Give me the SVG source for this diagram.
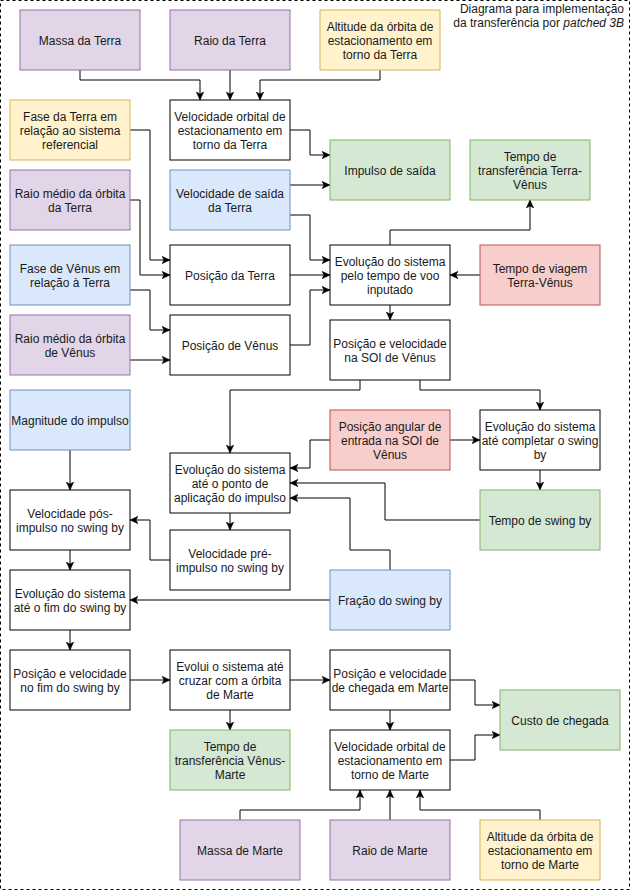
<svg xmlns="http://www.w3.org/2000/svg" width="631" height="891" viewBox="0 0 631 891">
<style>
  .n rect{stroke-width:1}
  .w rect{fill:#ffffff;stroke:#000000}
  .p rect{fill:#e1d5e7;stroke:#9673a6}
  .y rect{fill:#fff2cc;stroke:#d6b656}
  .g rect{fill:#d5e8d4;stroke:#82b366}
  .b rect{fill:#dae8fc;stroke:#6c8ebf}
  .r rect{fill:#f8cecc;stroke:#b85450}
  text{font-family:"Liberation Sans",Arial,sans-serif;font-size:12px;fill:#1a1a1a;text-anchor:middle}
  .e path{fill:none;stroke:#000000;stroke-width:1;marker-end:url(#ah)}
</style>
<defs>
  <marker id="ah" markerUnits="userSpaceOnUse" markerWidth="10" markerHeight="10" refX="8" refY="4" orient="auto" viewBox="0 0 10 10">
    <path d="M0,0.3 L8,4 L0,7.7 L2,4 Z" fill="#000000" stroke="#000000" stroke-width="0.5"/>
  </marker>
</defs>
<rect x="0" y="0" width="631" height="891" fill="#ffffff"/>
<rect x="0.5" y="0.5" width="629" height="889" fill="none" stroke="#000000" stroke-dasharray="3 3"/>
<g id="title">
  <text x="624" y="13" style="text-anchor:end">Diagrama para implementação</text>
  <text x="624" y="27" style="text-anchor:end">da transferência por <tspan font-style="italic">patched 3B</tspan></text>
</g>

<g id="connectors" class="e">
  <path d="M80,70 V80 H200 V100"/>
  <path d="M230,70 V100"/>
  <path d="M380,70 V80 H260 V100"/>
  <path d="M290,130 H310 V155 H330"/>
  <path d="M290,185 H330"/>
  <path d="M290,215 H310 V260 H330"/>
  <path d="M130,130 H150 V260 H170"/>
  <path d="M130,200 H140 V275 H170"/>
  <path d="M290,275 H330"/>
  <path d="M290,345 H310 V290 H330"/>
  <path d="M130,290 H150 V330 H170"/>
  <path d="M130,360 H170"/>
  <path d="M480,275 H450"/>
  <path d="M390,245 V230 H530 V200"/>
  <path d="M390,305 V320"/>
  <path d="M360,380 V390 H230 V453"/>
  <path d="M420,380 V390 H540 V410"/>
  <path d="M450,440 H480"/>
  <path d="M330,440 H310 V468 H290"/>
  <path d="M480,520 H385 V483 H290"/>
  <path d="M390,570 V550 H350 V498 H290"/>
  <path d="M540,470 V490"/>
  <path d="M230,513 V530"/>
  <path d="M170,560 H150 V520 H130"/>
  <path d="M70,450 V490"/>
  <path d="M70,550 V570"/>
  <path d="M330,600 H130"/>
  <path d="M70,630 V650"/>
  <path d="M130,680 H170"/>
  <path d="M290,680 H330"/>
  <path d="M230,710 V730"/>
  <path d="M450,680 H475 V705 H500"/>
  <path d="M390,710 V730"/>
  <path d="M450,760 H475 V735 H500"/>
  <path d="M240,820 V810 H360 V790"/>
  <path d="M390,820 V790"/>
  <path d="M540,820 V810 H420 V790"/>
</g>

<g id="massa-terra" class="n p"><rect x="20" y="10" width="120" height="60"/><text x="80" y="44.5">Massa da Terra</text></g>
<g id="raio-terra" class="n p"><rect x="170" y="10" width="120" height="60"/><text x="230" y="44.5">Raio da Terra</text></g>
<g id="altitude-terra" class="n y"><rect x="320" y="10" width="120" height="60"/><text x="380" y="30.5">Altitude da órbita de</text><text x="380" y="44.5">estacionamento em</text><text x="380" y="58.5">torno da Terra</text></g>
<g id="vel-orbital-terra" class="n w"><rect x="170" y="100" width="120" height="60"/><text x="230" y="120.5">Velocidade orbital de</text><text x="230" y="134.5">estacionamento em</text><text x="230" y="148.5">torno da Terra</text></g>
<g id="fase-terra" class="n y"><rect x="10" y="100" width="120" height="60"/><text x="70" y="120.5">Fase da Terra em</text><text x="70" y="134.5">relação ao sistema</text><text x="70" y="148.5">referencial</text></g>
<g id="impulso-saida" class="n g"><rect x="330" y="140" width="120" height="60"/><text x="390" y="174.5">Impulso de saída</text></g>
<g id="tempo-terra-venus" class="n g"><rect x="470" y="140" width="120" height="60"/><text x="530" y="160.5">Tempo de</text><text x="530" y="174.5">transferência Terra-</text><text x="530" y="188.5">Vênus</text></g>
<g id="raio-orbita-terra" class="n p"><rect x="10" y="170" width="120" height="60"/><text x="70" y="197.5">Raio médio da órbita</text><text x="70" y="211.5">da Terra</text></g>
<g id="vel-saida-terra" class="n b"><rect x="170" y="170" width="120" height="60"/><text x="230" y="197.5">Velocidade de saída</text><text x="230" y="211.5">da Terra</text></g>
<g id="fase-venus" class="n b"><rect x="10" y="245" width="120" height="60"/><text x="70" y="272.5">Fase de Vênus em</text><text x="70" y="286.5">relação à Terra</text></g>
<g id="posicao-terra" class="n w"><rect x="170" y="245" width="120" height="60"/><text x="230" y="279.5">Posição da Terra</text></g>
<g id="evolucao-voo" class="n w"><rect x="330" y="245" width="120" height="60"/><text x="390" y="265.5">Evolução do sistema</text><text x="390" y="279.5">pelo tempo de voo</text><text x="390" y="293.5">inputado</text></g>
<g id="tempo-viagem" class="n r"><rect x="480" y="245" width="120" height="60"/><text x="540" y="272.5">Tempo de viagem</text><text x="540" y="286.5">Terra-Vênus</text></g>
<g id="raio-orbita-venus" class="n p"><rect x="10" y="315" width="120" height="60"/><text x="70" y="342.5">Raio médio da órbita</text><text x="70" y="356.5">de Vênus</text></g>
<g id="posicao-venus" class="n w"><rect x="170" y="315" width="120" height="60"/><text x="230" y="349.5">Posição de Vênus</text></g>
<g id="pos-vel-soi" class="n w"><rect x="330" y="320" width="120" height="60"/><text x="390" y="347.5">Posição e velocidade</text><text x="390" y="361.5">na SOI de Vênus</text></g>
<g id="magnitude-impulso" class="n b"><rect x="10" y="390" width="120" height="60"/><text x="70" y="424.5">Magnitude do impulso</text></g>
<g id="posicao-angular" class="n r"><rect x="330" y="410" width="120" height="60"/><text x="390" y="430.5">Posição angular de</text><text x="390" y="444.5">entrada na SOI de</text><text x="390" y="458.5">Vênus</text></g>
<g id="evolucao-completar" class="n w"><rect x="480" y="410" width="120" height="60"/><text x="540" y="430.5">Evolução do sistema</text><text x="540" y="444.5">até completar o swing</text><text x="540" y="458.5">by</text></g>
<g id="evolucao-ponto" class="n w"><rect x="170" y="453" width="120" height="60"/><text x="230" y="473.5">Evolução do sistema</text><text x="230" y="487.5">até o ponto de</text><text x="230" y="501.5">aplicação do impulso</text></g>
<g id="vel-pos-impulso" class="n w"><rect x="10" y="490" width="120" height="60"/><text x="70" y="517.5">Velocidade pós-</text><text x="70" y="531.5">impulso no swing by</text></g>
<g id="tempo-swing" class="n g"><rect x="480" y="490" width="120" height="60"/><text x="540" y="524.5">Tempo de swing by</text></g>
<g id="vel-pre-impulso" class="n w"><rect x="170" y="530" width="120" height="60"/><text x="230" y="557.5">Velocidade pré-</text><text x="230" y="571.5">impulso no swing by</text></g>
<g id="evolucao-fim" class="n w"><rect x="10" y="570" width="120" height="60"/><text x="70" y="597.5">Evolução do sistema</text><text x="70" y="611.5">até o fim do swing by</text></g>
<g id="fracao-swing" class="n b"><rect x="330" y="570" width="120" height="60"/><text x="390" y="604.5">Fração do swing by</text></g>
<g id="pos-vel-fim" class="n w"><rect x="10" y="650" width="120" height="60"/><text x="70" y="677.5">Posição e velocidade</text><text x="70" y="691.5">no fim do swing by</text></g>
<g id="evolui-marte" class="n w"><rect x="170" y="650" width="120" height="60"/><text x="230" y="670.5">Evolui o sistema até</text><text x="230" y="684.5">cruzar com a órbita</text><text x="230" y="698.5">de Marte</text></g>
<g id="pos-vel-chegada" class="n w"><rect x="330" y="650" width="120" height="60"/><text x="390" y="677.5">Posição e velocidade</text><text x="390" y="691.5">de chegada em Marte</text></g>
<g id="custo-chegada" class="n g"><rect x="500" y="690" width="120" height="60"/><text x="560" y="724.5">Custo de chegada</text></g>
<g id="tempo-venus-marte" class="n g"><rect x="170" y="730" width="120" height="60"/><text x="230" y="750.5">Tempo de</text><text x="230" y="764.5">transferência Vênus-</text><text x="230" y="778.5">Marte</text></g>
<g id="vel-orbital-marte" class="n w"><rect x="330" y="730" width="120" height="60"/><text x="390" y="750.5">Velocidade orbital de</text><text x="390" y="764.5">estacionamento em</text><text x="390" y="778.5">torno de Marte</text></g>
<g id="massa-marte" class="n p"><rect x="180" y="820" width="120" height="60"/><text x="240" y="854.5">Massa de Marte</text></g>
<g id="raio-marte" class="n p"><rect x="330" y="820" width="120" height="60"/><text x="390" y="854.5">Raio de Marte</text></g>
<g id="altitude-marte" class="n y"><rect x="480" y="820" width="120" height="60"/><text x="540" y="840.5">Altitude da órbita de</text><text x="540" y="854.5">estacionamento em</text><text x="540" y="868.5">torno de Marte</text></g>
</svg>
